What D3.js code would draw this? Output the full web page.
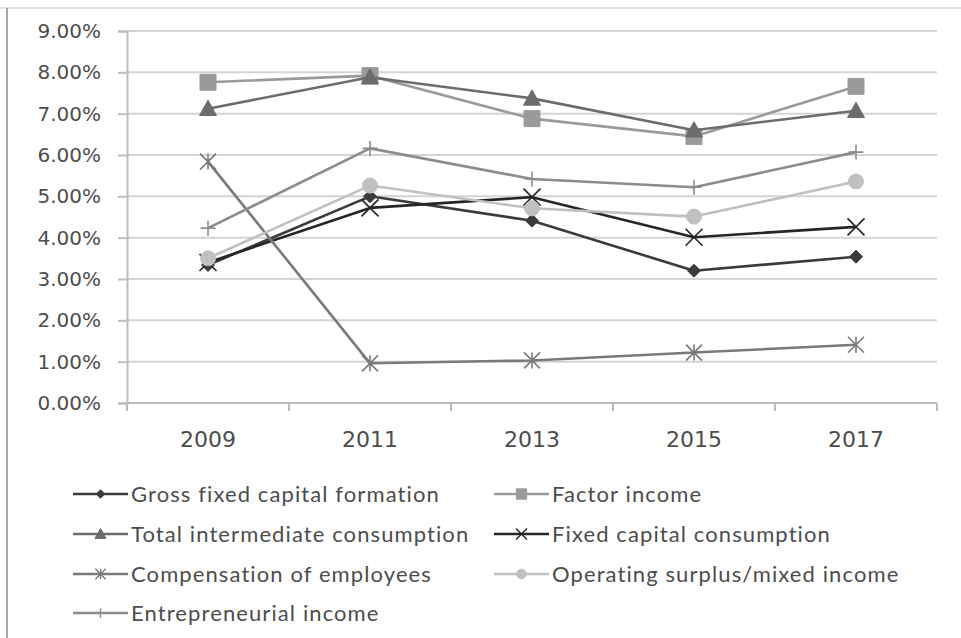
<!DOCTYPE html>
<html>
<head>
<meta charset="utf-8">
<script src="https://cdn.jsdelivr.net/npm/d3@7"></script>
<style>
  html, body { margin: 0; padding: 0; background: #fff; }
  svg { display: block; }
</style>
</head>
<body>
<svg id="chart" width="961" height="638"></svg>
<script>
// Years on the category axis
const years = ["2009", "2011", "2013", "2015", "2017"];

// Shares (per cent) for each series
const grossFixedCapitalFormation = [3.34, 5.00, 4.41, 3.20, 3.54];
const factorIncome = [7.76, 7.92, 6.88, 6.45, 7.66];
const totalIntermediateConsumption = [7.12, 7.88, 7.37, 6.60, 7.07];
const fixedCapitalConsumption = [3.40, 4.72, 4.98, 4.01, 4.26];
const compensationOfEmployees = [5.84, 0.96, 1.03, 1.22, 1.41];
const operatingSurplusMixedIncome = [3.50, 5.26, 4.71, 4.51, 5.36];
const entrepreneurialIncome = [4.23, 6.16, 5.42, 5.22, 6.07];

const yTicks = [0, 1, 2, 3, 4, 5, 6, 7, 8, 9];

const seriesNames = [
  "Gross fixed capital formation",
  "Factor income",
  "Total intermediate consumption",
  "Fixed capital consumption",
  "Compensation of employees",
  "Operating surplus/mixed income",
  "Entrepreneurial income"
];
const seriesValues = [
  grossFixedCapitalFormation,
  factorIncome,
  totalIntermediateConsumption,
  fixedCapitalConsumption,
  compensationOfEmployees,
  operatingSurplusMixedIncome,
  entrepreneurialIncome
];

// Styling for each series: line colour and marker kind
const styles = [
  { color: "#3b3b3b", marker: "diamond" },
  { color: "#9a9a9a", marker: "square" },
  { color: "#6c6c6c", marker: "triangle" },
  { color: "#262626", marker: "times" },
  { color: "#7a7a7a", marker: "asterisk" },
  { color: "#c0c0c0", marker: "circle" },
  { color: "#8c8c8c", marker: "plus" }
];

const series = seriesNames.map((name, i) => ({
  name,
  values: seriesValues[i].map((v, j) => ({ year: years[j], value: v })),
  ...styles[i]
}));

const svg = d3.select("#chart");

const plot = { left: 127, right: 937, top: 31, bottom: 403 };

const x = d3.scaleBand().domain(years).range([plot.left, plot.right]).padding(0);
const y = d3.scaleLinear().domain([0, 9]).range([plot.bottom, plot.top]);

// Outer frame (left and top edges)
svg.append("line")
  .attr("x1", 0).attr("x2", 961).attr("y1", 8).attr("y2", 8)
  .attr("stroke", "#e4e4e4").attr("stroke-width", 2);
svg.append("line")
  .attr("x1", 7).attr("x2", 7).attr("y1", 8).attr("y2", 638)
  .attr("stroke", "#a8a8a8").attr("stroke-width", 2);

// Horizontal gridlines
svg.append("g")
  .selectAll("line")
  .data(yTicks.slice(1))
  .join("line")
  .attr("x1", plot.left).attr("x2", plot.right)
  .attr("y1", d => y(d)).attr("y2", d => y(d))
  .attr("stroke", "#d4d4d4").attr("stroke-width", 2);

// Y axis
const yAxis = d3.axisLeft(y)
  .tickValues(yTicks)
  .tickSize(9)
  .tickPadding(17)
  .tickFormat(d => d.toFixed(2) + "%");
const gy = svg.append("g").attr("transform", `translate(${plot.left},0)`).call(yAxis);
gy.select(".domain").attr("stroke", "#bdbdbd").attr("stroke-width", 2);
gy.selectAll(".tick line").attr("stroke", "#bdbdbd").attr("stroke-width", 2);
gy.selectAll(".tick text")
  .attr("fill", "#4d4d4d")
  .style("font-family", "'DejaVu Sans', sans-serif")
  .style("font-size", "20px");

// X axis with ticks at category boundaries
const gx = svg.append("g").attr("transform", `translate(0,${plot.bottom})`);
gx.append("line")
  .attr("x1", plot.left).attr("x2", plot.right)
  .attr("y1", 0).attr("y2", 0)
  .attr("stroke", "#bdbdbd").attr("stroke-width", 2);
const boundaries = years.map(d => x(d)).concat([x(years[years.length - 1]) + x.bandwidth()]);
gx.selectAll("line.bt")
  .data(boundaries)
  .join("line")
  .attr("class", "bt")
  .attr("x1", d => d).attr("x2", d => d)
  .attr("y1", 0).attr("y2", 8)
  .attr("stroke", "#bdbdbd").attr("stroke-width", 2);
gx.selectAll("text")
  .data(years)
  .join("text")
  .attr("x", d => x(d) + x.bandwidth() / 2)
  .attr("y", 44)
  .attr("text-anchor", "middle")
  .attr("fill", "#4d4d4d")
  .style("font-family", "'DejaVu Sans', sans-serif")
  .style("font-size", "22px")
  .text(d => d);

// Marker shapes
function markerPath(kind, s) {
  const h = s / 2;
  switch (kind) {
    case "diamond": return `M0,${-h}L${h},0L0,${h}L${-h},0Z`;
    case "square": return `M${-h},${-h}H${h}V${h}H${-h}Z`;
    case "triangle": return `M0,${-h}L${h},${h * 0.8}L${-h},${h * 0.8}Z`;
    case "circle": return d3.symbol(d3.symbolCircle, Math.PI * h * h)();
    case "times": return `M${-h},${-h}L${h},${h}M${-h},${h}L${h},${-h}`;
    case "asterisk": return `M${-h},${-h}L${h},${h}M${-h},${h}L${h},${-h}M0,${-h}V${h}`;
    case "plus": return `M0,${-h}V${h}M${-h},0H${h}`;
  }
}
const markerSize = { diamond: 13, square: 16, triangle: 17, circle: 15, times: 17, asterisk: 16, plus: 15 };
const filled = k => ["diamond", "square", "triangle", "circle"].includes(k);

const line = d3.line()
  .x(d => x(d.year) + x.bandwidth() / 2)
  .y(d => y(d.value));

const gs = svg.append("g")
  .selectAll("g")
  .data(series)
  .join("g");

gs.append("path")
  .attr("d", d => line(d.values))
  .attr("fill", "none")
  .attr("stroke", d => d.color)
  .attr("stroke-width", 2.6)
  .attr("stroke-linejoin", "round");

gs.each(function (s) {
  d3.select(this).selectAll("path.m")
    .data(s.values)
    .join("path")
    .attr("class", "m")
    .attr("transform", d => `translate(${x(d.year) + x.bandwidth() / 2},${y(d.value)})`)
    .attr("d", markerPath(s.marker, markerSize[s.marker]))
    .attr("fill", filled(s.marker) ? s.color : "none")
    .attr("stroke", s.color)
    .attr("stroke-width", filled(s.marker) ? 1 : 1.6);
});

// Legend
const legendCols = [73, 494];
const legendRows = [494, 534, 574, 613];
const legend = svg.append("g")
  .selectAll("g")
  .data(series)
  .join("g")
  .attr("transform", (d, i) => `translate(${legendCols[i % 2]},${legendRows[Math.floor(i / 2)]})`);

legend.append("line")
  .attr("x1", 0).attr("x2", 55)
  .attr("y1", 0).attr("y2", 0)
  .attr("stroke", d => d.color)
  .attr("stroke-width", 2.6);
legend.append("path")
  .attr("transform", "translate(27.5,0)")
  .attr("d", d => markerPath(d.marker, markerSize[d.marker] * 0.65))
  .attr("fill", d => filled(d.marker) ? d.color : "none")
  .attr("stroke", d => d.color)
  .attr("stroke-width", d => filled(d.marker) ? 1 : 1.4);
legend.append("text")
  .attr("x", 58)
  .attr("y", 7.5)
  .attr("fill", "#4d4d4d")
  .style("font-family", "Lato, sans-serif")
  .style("font-size", "22px")
  .style("letter-spacing", "1.1px")
  .text(d => d.name);
</script>
</body>
</html>
